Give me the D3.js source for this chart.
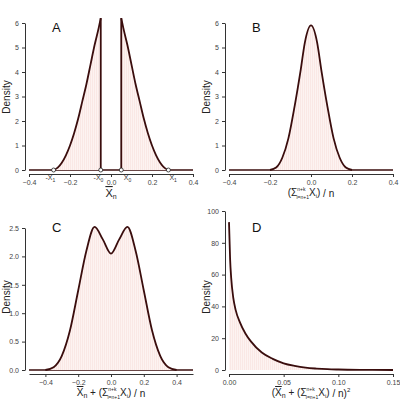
<!DOCTYPE html>
<html><head><meta charset="UTF-8">
<script src="https://d3js.org/d3.v7.min.js"></script>
<style>body{margin:0;background:#fff}text{font-family:"Liberation Sans",Arial,sans-serif}</style>
</head><body><svg id="c" width="400" height="400"></svg>
<script>
// Panel A: truncated density, left and right pieces
const aLeftX = [-0.28,-0.26,-0.24,-0.22,-0.2,-0.18,-0.16,-0.14,-0.12,-0.1,-0.08,-0.06,-0.05];
const aLeftY = [0,0.1,0.3,0.6,1.0,1.5,2.1,2.8,3.5,4.3,5.1,5.8,6.2];
const aRightX = aLeftX.map(v => -v).reverse();
const aRightY = aLeftY.slice().reverse();
const aPoints = [-0.28,-0.05,0.05,0.28];
// Panel B
const bX = [-0.2,-0.17,-0.14,-0.11,-0.08,-0.05,-0.03,0,0.03,0.05,0.08,0.11,0.14,0.17,0.2];
const bY = [0,0.1,0.5,1.3,2.6,4.1,5.2,5.9,5.2,4.1,2.6,1.3,0.5,0.1,0];
// Panel C
const cX = [-0.4,-0.35,-0.3,-0.25,-0.2,-0.15,-0.1,-0.05,0,0.05,0.1,0.15,0.2,0.25,0.3,0.35,0.4];
const cY = [0,0.05,0.25,0.7,1.4,2.1,2.52,2.3,2.05,2.3,2.52,2.1,1.4,0.7,0.25,0.05,0];
// Panel D
const dX = [0,0.001,0.002,0.004,0.006,0.01,0.015,0.02,0.03,0.04,0.05,0.06,0.07,0.08,0.09,0.1,0.12,0.15];
const dY = [93,70,58,45,38,30,23,18,11,7,4.2,2.6,1.5,0.9,0.5,0.3,0.1,0];

const svg = d3.select("#c");
const defs = svg.append("defs");
const pat = defs.append("pattern").attr("id","hatch").attr("patternUnits","userSpaceOnUse")
  .attr("width",2).attr("height",4);
pat.append("rect").attr("width",2).attr("height",4).attr("fill","#fdf3f1");
pat.append("line").attr("x1",0.5).attr("x2",0.5).attr("y1",0).attr("y2",4)
  .attr("stroke","#f6d6d2").attr("stroke-width",0.4);

const AX = "#333", CURVE = "#3a0d0d";

function panel(ox, oy, xd, xt, yd, yt, yTop, fmtX, fmtY, letter) {
  const x = d3.scaleLinear().domain(xd).range([ox + 29, ox + 193]);
  const y = d3.scaleLinear().domain(yd).range([oy + 170, oy + yTop]);
  const g = svg.append("g");
  g.append("g").attr("transform", `translate(0,${oy + 174})`)
    .call(d3.axisBottom(x).tickValues(xt).tickFormat(fmtX).tickSize(3).tickSizeOuter(0));
  g.append("g").attr("transform", `translate(${ox + 25},0)`)
    .call(d3.axisLeft(y).tickValues(yt).tickFormat(fmtY).tickSize(3).tickSizeOuter(0));
  g.selectAll(".domain").attr("stroke", AX);
  g.selectAll(".tick line").attr("stroke", AX);
  g.selectAll(".tick text").attr("font-size", 7).attr("fill", "#444");
  g.append("text").attr("transform", `translate(${ox + 10},${oy + 97}) rotate(-90)`)
    .attr("text-anchor", "middle").attr("font-size", 10).attr("fill", "#222").text("Density");
  g.append("text").attr("x", ox + 52).attr("y", oy + 32).attr("font-size", 13).attr("fill", "#111").text(letter);
  return {x, y, g};
}

function curve(p, xs, ys) {
  const pts = xs.map((v, i) => [v, ys[i]]);
  const area = d3.area().x(d => p.x(d[0])).y0(p.y(0)).y1(d => p.y(d[1])).curve(d3.curveMonotoneX);
  const line = d3.line().x(d => p.x(d[0])).y(d => p.y(d[1])).curve(d3.curveMonotoneX);
  p.g.append("path").attr("d", area(pts)).attr("fill", "url(#hatch)");
  p.g.append("path").attr("d", line(pts)).attr("fill", "none").attr("stroke", CURVE).attr("stroke-width", 1.8);
}

const f1 = d => d3.format(".1f")(d);
const fInt = d => d3.format("d")(d);
// A
const pA = panel(0, 0, [-0.4, 0.4], [-0.4,-0.2,0,0.2,0.4], [0, 6], [0,1,2,3,4,5,6], 23, f1, fInt, "A");
pA.g.append("line").attr("x1", pA.x(-0.4)).attr("x2", pA.x(0.4)).attr("y1", pA.y(0)).attr("y2", pA.y(0))
  .attr("stroke", CURVE).attr("stroke-width", 1.4);
curve(pA, aLeftX, aLeftY);
curve(pA, aRightX, aRightY);
[-0.05, 0.05].forEach(v => pA.g.append("line").attr("x1", pA.x(v)).attr("x2", pA.x(v))
  .attr("y1", pA.y(0)).attr("y2", pA.y(6.2)).attr("stroke", CURVE).attr("stroke-width", 1.8));
pA.g.selectAll("circle").data(aPoints).join("circle").attr("cx", d => pA.x(d)).attr("cy", pA.y(0))
  .attr("r", 2).attr("fill", "#fff").attr("stroke", "#222").attr("stroke-width", 0.8);
const sub = [["-X",  "1", -0.32], ["-X", "0", -0.085], ["X", "0", 0.062], ["X", "1", 0.285]];
sub.forEach(s => {
  const t = pA.g.append("text").attr("x", pA.x(s[2])).attr("y", pA.y(0) + 10).attr("font-size", 7).attr("fill", "#333");
  if (s[0][0] === "-") t.append("tspan").text("-");
  t.append("tspan").attr("text-decoration", "overline").text("X");
  t.append("tspan").attr("font-size", 5).attr("dy", 2).text(s[1]);
});

function xbar(t) {
  t.append("tspan").attr("text-decoration", "overline").text("X");
  t.append("tspan").attr("font-size", 7).attr("dy", 2).text("n");
}
function sumTerm(t) {
  t.append("tspan").text("(Σ");
  t.append("tspan").attr("font-size", 5).attr("dy", -5).text("n+k");
  t.append("tspan").attr("font-size", 5).attr("dx", -9).attr("dy", 8).text("i=n+1");
  t.append("tspan").attr("dy", -3).text("X");
  t.append("tspan").attr("font-size", 6).attr("dy", 2).text("i");
  t.append("tspan").attr("dy", -2).text(")");
}
let t = pA.g.append("text").attr("x", 111).attr("y", 197).attr("text-anchor", "middle").attr("font-size", 11).attr("fill", "#222");
xbar(t);

// B
const pB = panel(200, 0, [-0.4, 0.4], [-0.4,-0.2,0,0.2,0.4], [0, 6], [0,1,2,3,4,5,6], 23, f1, fInt, "B");
pB.g.append("line").attr("x1", pB.x(-0.4)).attr("x2", pB.x(0.4)).attr("y1", pB.y(0)).attr("y2", pB.y(0))
  .attr("stroke", CURVE).attr("stroke-width", 1.4);
curve(pB, bX, bY);
t = pB.g.append("text").attr("x", 311).attr("y", 196).attr("text-anchor", "middle").attr("font-size", 10).attr("fill", "#222");
sumTerm(t); t.append("tspan").attr("dy", 1).text(" / n");

// C
const pC = panel(0, 200, [-0.5, 0.5], [-0.4,-0.2,0,0.2,0.4], [0, 2.5], [0,0.5,1,1.5,2,2.5], 28, f1, f1, "C");
pC.g.append("line").attr("x1", pC.x(-0.5)).attr("x2", pC.x(0.5)).attr("y1", pC.y(0)).attr("y2", pC.y(0))
  .attr("stroke", CURVE).attr("stroke-width", 1.4);
curve(pC, cX, cY);
t = pC.g.append("text").attr("x", 111).attr("y", 396).attr("text-anchor", "middle").attr("font-size", 10).attr("fill", "#222");
xbar(t); t.append("tspan").attr("dy", -2).text(" + "); sumTerm(t); t.append("tspan").attr("dy", 1).text(" / n");

// D
const pD = panel(200, 200, [0, 0.15], [0,0.05,0.1,0.15], [0, 100], [0,20,40,60,80,100], 11, d => d3.format(".2f")(d), fInt, "D");
curve(pD, dX, dY);
t = pD.g.append("text").attr("x", 311).attr("y", 396).attr("text-anchor", "middle").attr("font-size", 10).attr("fill", "#222");
t.append("tspan").text("(");
xbar(t); t.append("tspan").attr("dy", -2).text(" + "); sumTerm(t); t.append("tspan").attr("dy", 1).text(" / n)");
t.append("tspan").attr("font-size", 6).attr("dy", -5).text("2");
</script></body></html>
